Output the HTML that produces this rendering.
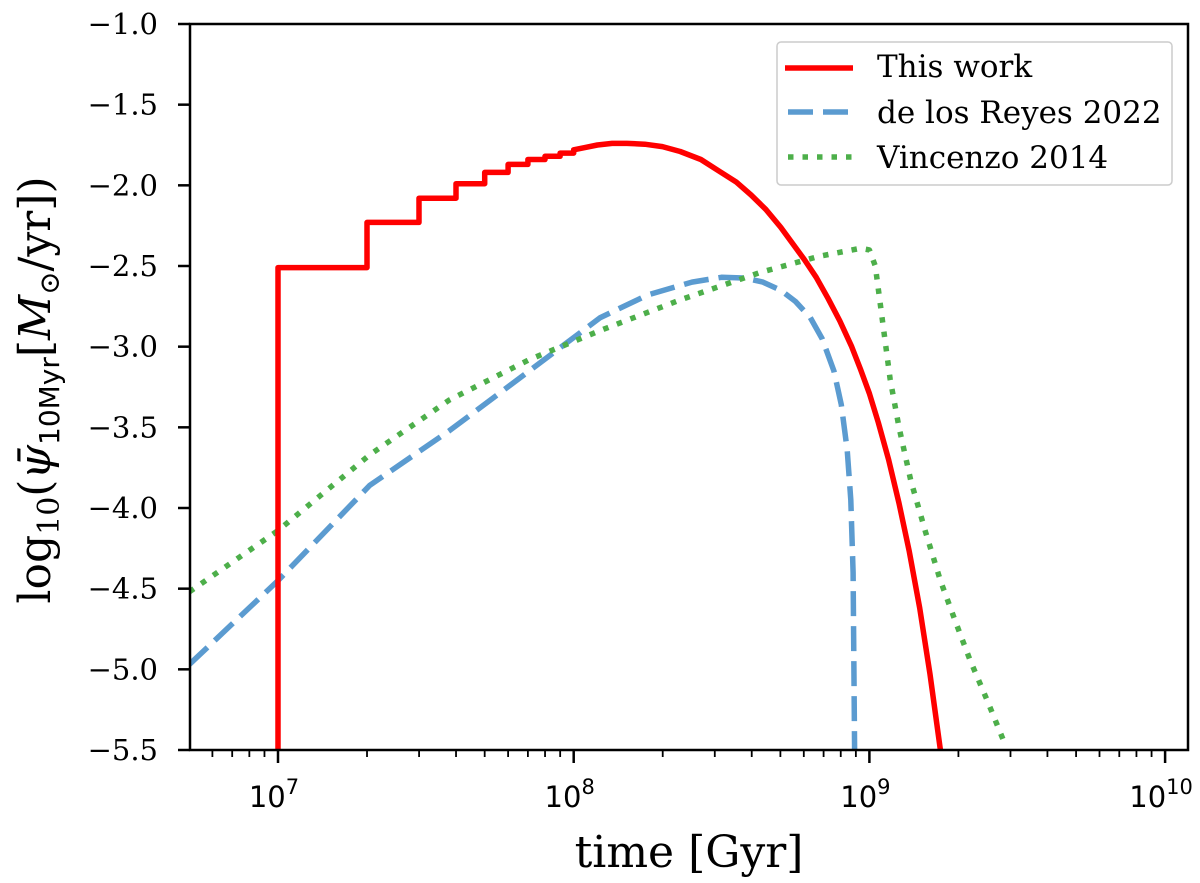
<!DOCTYPE html>
<html><head><meta charset="utf-8"><style>
body{margin:0;background:#fff}
svg text{font-family:"DejaVu Serif","Liberation Serif",serif;fill:#000}
svg .sans{font-family:"DejaVu Sans","Liberation Sans",sans-serif}
</style></head><body>
<svg id="chart" width="1200" height="878" viewBox="0 0 1200 878" xmlns="http://www.w3.org/2000/svg">
<g id="axes"></g>
<g id="series"></g>
<rect x="190" y="24" width="998" height="726" fill="none" stroke="#000" stroke-width="2.5"/>
<text x="689" y="867" font-size="44" text-anchor="middle">time [Gyr]</text>
<text transform="translate(50,390) rotate(-90)" font-size="44" text-anchor="middle">log<tspan font-size="30" dy="9">10</tspan><tspan dy="-9">(</tspan><tspan font-style="italic">ψ̄</tspan><tspan class="sans" font-size="28" dy="9">10Myr</tspan><tspan dy="-9">[</tspan><tspan font-style="italic">M</tspan><tspan font-size="28" dy="9">⊙</tspan><tspan dy="-9">/yr])</tspan></text>
<g>
<rect x="777" y="42" width="395" height="143" fill="#fff" fill-opacity="0.8" stroke="#ccc" stroke-width="1.5" rx="4"/>
<g><line x1="785" y1="68" x2="853" y2="68" stroke="#ff0000" stroke-width="5.5"/><text x="877" y="77" font-size="31">This work</text></g>
<g><line x1="788" y1="112" x2="853" y2="112" stroke="#5b9bd0" stroke-width="5.5" stroke-dasharray="25,10"/><text x="877" y="123" font-size="31">de los Reyes 2022</text></g>
<g><line x1="788" y1="157" x2="853" y2="157" stroke="#4daf4a" stroke-width="5.5" stroke-dasharray="5.5,9"/><text x="877" y="168" font-size="31">Vincenzo 2014</text></g>
</g>
</svg>
<script>
// data (log10 of time in yr, log10 SFR)
const redLogT=[7,7,7.301,7.301,7.477,7.477,7.602,7.602,7.699,7.699,7.778,7.778,7.845,7.845,7.903,7.903,7.954,7.954,8,8,8.04,8.08,8.13,8.18,8.24,8.3,8.36,8.43,8.49,8.55,8.6,8.65,8.7,8.74,8.78,8.82,8.86,8.9,8.94,8.97,9.0,9.03,9.065,9.10,9.135,9.17,9.205,9.24];
const redVal=[-5.5,-2.51,-2.51,-2.23,-2.23,-2.08,-2.08,-1.99,-1.99,-1.92,-1.92,-1.87,-1.87,-1.84,-1.84,-1.82,-1.82,-1.80,-1.80,-1.78,-1.765,-1.75,-1.74,-1.74,-1.745,-1.76,-1.79,-1.84,-1.91,-1.98,-2.06,-2.15,-2.26,-2.36,-2.46,-2.57,-2.70,-2.84,-3.0,-3.14,-3.29,-3.47,-3.70,-3.97,-4.27,-4.62,-5.03,-5.5];
const blueLogT=[6.70,7.0,7.31,7.58,7.85,8.09,8.25,8.4,8.5,8.58,8.64,8.7,8.75,8.8,8.84,8.88,8.905,8.925,8.937,8.945,8.95];
const blueVal=[-4.97,-4.45,-3.86,-3.52,-3.15,-2.82,-2.68,-2.6,-2.57,-2.575,-2.60,-2.65,-2.72,-2.82,-2.95,-3.15,-3.36,-3.64,-3.95,-4.4,-5.5];
const greenLogT=[6.70,7.0,7.31,7.58,7.85,8.09,8.36,8.63,8.83,8.97,9.0,9.02,9.045,9.07,9.1,9.14,9.19,9.24,9.29,9.34,9.4,9.46];
const greenVal=[-4.52,-4.14,-3.67,-3.33,-3.08,-2.90,-2.71,-2.54,-2.44,-2.39,-2.40,-2.5,-2.85,-3.20,-3.5,-3.83,-4.15,-4.45,-4.7,-4.94,-5.2,-5.47];
const yTicks=[-1.0,-1.5,-2.0,-2.5,-3.0,-3.5,-4.0,-4.5,-5.0,-5.5];
const xDecades=[7,8,9,10];
const NS="http://www.w3.org/2000/svg";
function xs(l){return 278+(l-7)*295.7;}
function ys(v){return 24+(-1-v)/4.5*726;}
const axes=document.getElementById('axes'),ser=document.getElementById('series');
function mk(tag,at,par){const e=document.createElementNS(NS,tag);for(const k in at)e.setAttribute(k,at[k]);par.appendChild(e);return e;}
yTicks.forEach(v=>{
 const t=mk('line',{x1:178,x2:190,y1:ys(v),y2:ys(v),stroke:'#000','stroke-width':2.5},axes);
 
 
 const tx=mk('text',{x:158,y:ys(v)+10,'font-size':29,'text-anchor':'end'},axes);
 tx.textContent='\u2212'+Math.abs(v).toFixed(1);
 
 
});
for(let d=6;d<=10;d++){for(let m=2;m<=9;m++){const l=d+Math.log10(m);const x=xs(l);if(x<190||x>1188)continue;
 const t=mk('line',{x1:x,x2:x,y1:750,y2:757,stroke:'#000','stroke-width':1.8},axes);
 
 }}
xDecades.forEach(d=>{const x=xs(d);
 const t=mk('line',{x1:x,x2:x,y1:750,y2:763,stroke:'#000','stroke-width':2.5},axes);
 
 
 const tx=mk('text',{x:x-4,y:807,'font-size':29,'text-anchor':'middle','class':'sans'},axes);
 tx.innerHTML='10<tspan font-size="21" dy="-13">'+d+'</tspan>';
 
 
});
const clip=mk('clipPath',{id:'pc'},ser);mk('rect',{x:190,y:24,width:998,height:726},clip);
function line(lt,vals,color,dash,name){
 const d=lt.map((l,i)=>(i?'L':'M')+xs(l).toFixed(1)+','+ys(vals[i]).toFixed(1)).join('');
 const p=mk('path',{d:d,fill:'none',stroke:color,'stroke-width':5.5,'stroke-dasharray':dash,'clip-path':'url(#pc)','stroke-linejoin':'round'},ser);
 
 
}
line(blueLogT,blueVal,'#5b9bd0','25,10','de-los-reyes-line');
line(greenLogT,greenVal,'#4daf4a','5.5,9','vincenzo-line');
line(redLogT,redVal,'#ff0000','none','this-work-line');
</script>
</body></html>
